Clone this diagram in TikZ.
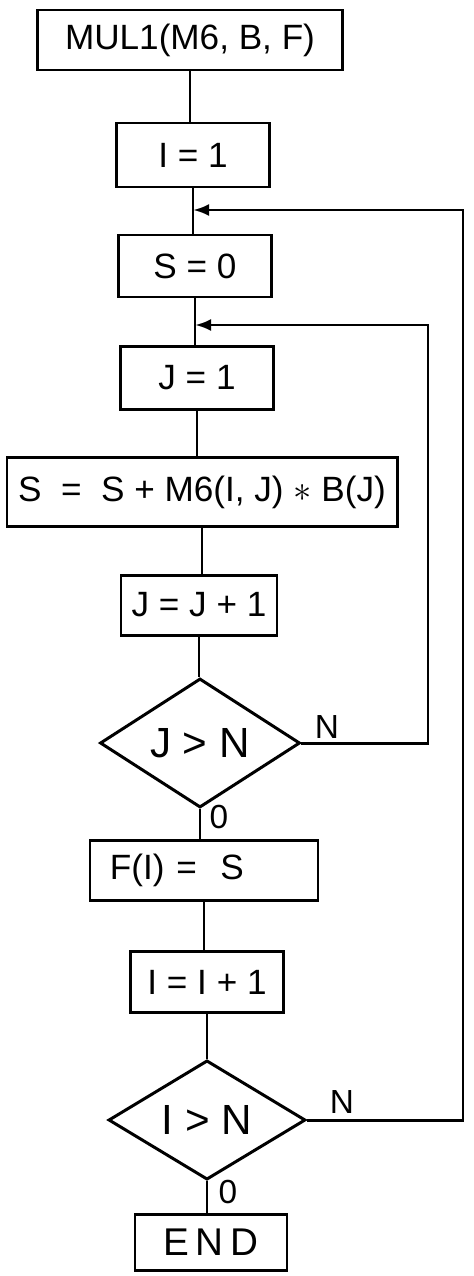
\documentclass[tikz,border=0pt]{standalone}
\usepackage{fontspec}
\setmainfont{Liberation Sans}
\usepackage{tikz}
\usetikzlibrary{positioning,arrows.meta,shapes.geometric}

\begin{document}
\begin{tikzpicture}[
  x=0.2mm, y=-0.2mm,
  line width=1.7pt,
  font=\fontsize{20}{24}\selectfont,
  box/.style   = {draw, rectangle, align=center, inner sep=0pt,
                  minimum height=12.4mm, minimum width=30.6mm},
  test/.style  = {draw, diamond, inner sep=0pt, minimum width=40mm,
                  minimum height=21mm, font=\fontsize{24}{28}\selectfont},
  lbl/.style   = {inner sep=0pt, font=\fontsize{19}{22}\selectfont},
  arr/.style   = {-{Latex[length=3.2mm,width=2.4mm]}}
]
\useasboundingbox (0,0) rectangle (474,1276);

% Main column
\node[box, minimum width=61mm, minimum height=12mm] (start) at (190,40) {MUL1(M6, B, F)};
\node[box, minimum height=12.8mm] (i1)   at (193,155)  {I = 1};
\node[box]                        (s0)   at (195,266)  {S = 0};
\node[box, minimum height=12.6mm] (j1)   at (197,378)  {J = 1};
\node[box, minimum width=78mm, minimum height=13.8mm] (acc) at (202,492)
     {S \ = \ S + M6(I, J) $\ast$ B(J)};
\node[box, minimum width=31.2mm, minimum height=12mm] (jinc) at (199,605) {J = J + 1};
\node[test]                       (jtest) at (200,743) {J > N};
\node[box, minimum width=45.6mm, minimum height=12mm, text width=37.6mm,
      align=left] (fi) at (204,870) {F(I) = \ S};
\node[box, minimum height=12.2mm] (iinc) at (207,982)  {I = I + 1};
\node[test, minimum width=39.4mm] (itest) at (207,1120) {I > N};
\node[box, minimum width=30.4mm, minimum height=11.2mm,
      font=\fontsize{22}{26}\selectfont] (endn) at (211,1242) {E\,N\,D};

% Branch labels
\node[lbl] (jno)  at (327,727)  {N};
\node[lbl] (jyes) at (219,817)  {0};
\node[lbl] (ino)  at (342,1102) {N};
\node[lbl] (iyes) at (228,1192) {0};

% Loop corners
\coordinate (innerloop) at (428,325);
\coordinate (outerloop) at (463,210);

% Flow
\draw (start.south) -- (start.south |- i1.north);
\draw (i1.south)    -- (i1.south |- s0.north);
\draw (s0.south)    -- (s0.south |- j1.north);
\draw (j1.south)    -- (j1.south |- acc.north);
\draw (acc.south)   -- (acc.south |- jinc.north);
\draw (jinc.south)  -- (jinc.south |- jtest.north);
\draw (jtest.south) -- (jtest.south |- fi.north);
\draw (fi.south)    -- (fi.south |- iinc.north);
\draw (iinc.south)  -- (iinc.south |- itest.north);
\draw (itest.south) -- (itest.south |- endn.north);

% Loops back
\draw[arr] (jtest.east) -| (innerloop) -- (innerloop -| s0.south);
\draw[arr] (itest.east) -| (outerloop) -- (outerloop -| i1.south);
\end{tikzpicture}
\end{document}
